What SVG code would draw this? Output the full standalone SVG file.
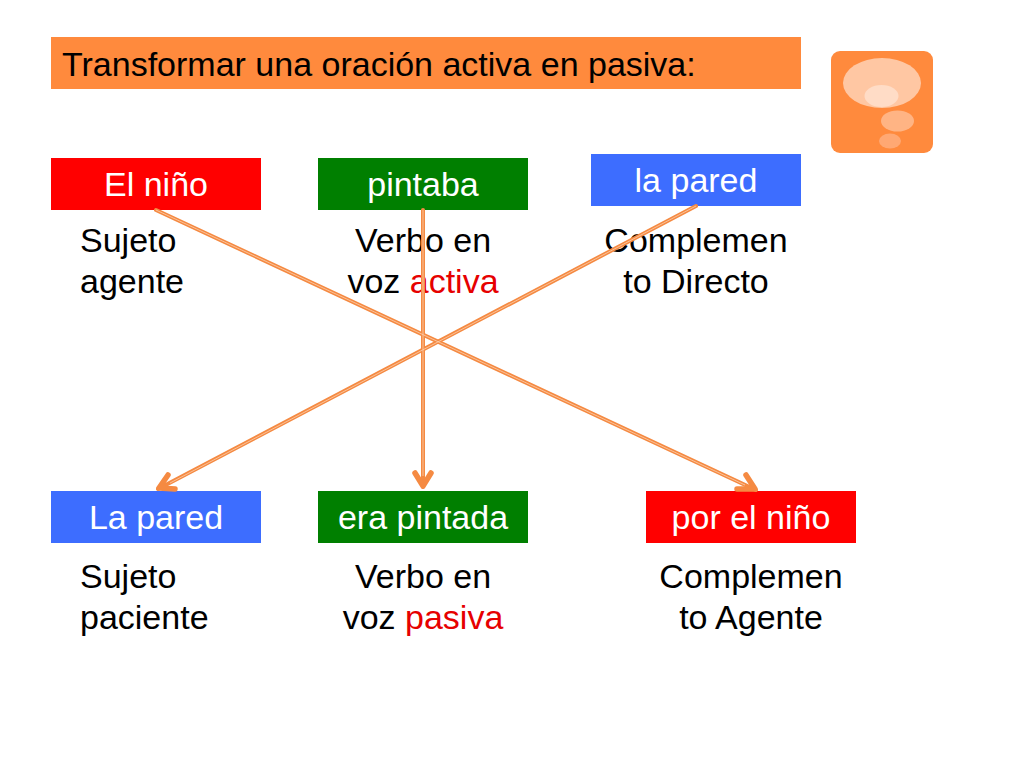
<svg xmlns="http://www.w3.org/2000/svg" width="1024" height="768" viewBox="0 0 1024 768">
<style>
text{font-family:"Liberation Sans",Arial,sans-serif;font-size:34px;fill:#000}
.w{fill:#fff;text-anchor:middle}
.m{text-anchor:middle}
.r{fill:#e60000}
.c{stroke:#f58a42;stroke-width:4;fill:none;stroke-linecap:round;stroke-linejoin:round}
.h{stroke-width:5.500}
.c2{stroke:#fbd0b0;stroke-width:.8;fill:none}
</style>
<rect width="1024" height="768" fill="#fff"/>
<g id="title"><rect x="51" y="37" width="750" height="52" fill="#ff8a3d"/><text x="62" y="76">Transformar una oración activa en pasiva:</text></g>
<g id="icon"><rect x="831" y="51" width="102" height="102" rx="9" fill="#ff8a3d"/>
<ellipse cx="882" cy="83" rx="39" ry="25" fill="#ffc7a3"/><ellipse cx="881.500" cy="96" rx="17" ry="11" fill="#ffdcc6"/><ellipse cx="897.500" cy="121" rx="16.500" ry="10.500" fill="#ffb484"/><ellipse cx="890" cy="141" rx="11" ry="7.500" fill="#ffa873"/></g>
<g id="n1"><rect x="51" y="158" width="210" height="52" fill="#ff0000"/><text class="w" x="156" y="196">El niño</text></g>
<g id="n2"><rect x="318" y="158" width="210" height="52" fill="#007f00"/><text class="w" x="423" y="196">pintaba</text></g>
<g id="n3"><rect x="591" y="154" width="210" height="52" fill="#3d6dff"/><text class="w" x="696" y="192">la pared</text></g>
<g id="n4"><rect x="51" y="491" width="210" height="52" fill="#3d6dff"/><text class="w" x="156" y="529">La pared</text></g>
<g id="n5"><rect x="318" y="491" width="210" height="52" fill="#007f00"/><text class="w" x="423" y="529">era pintada</text></g>
<g id="n6"><rect x="646" y="491" width="210" height="52" fill="#ff0000"/><text class="w" x="751" y="529">por el niño</text></g>
<g id="l1"><text x="80" y="252">Sujeto</text><text x="80" y="293">agente</text></g>
<g id="l2"><text class="m" x="423" y="252">Verbo en</text><text class="m" x="423" y="293">voz <tspan class="r">activa</tspan></text></g>
<g id="l3"><text class="m" x="696" y="252">Complemen</text><text class="m" x="696" y="293">to Directo</text></g>
<g id="l4"><text x="80" y="588">Sujeto</text><text x="80" y="629">paciente</text></g>
<g id="l5"><text class="m" x="423" y="588">Verbo en</text><text class="m" x="423" y="629">voz <tspan class="r">pasiva</tspan></text></g>
<g id="l6"><text class="m" x="751" y="588">Complemen</text><text class="m" x="751" y="629">to Agente</text></g>
<g id="connectors">
<path class="c" d="M156 210L756 490"/>
<path class="c" d="M423 210L423 487"/>
<path class="c" d="M696 206L158 489"/>
<path class="c h" d="M737 489L755 489L746 475"/>
<path class="c h" d="M415 473L423 486L431 473"/>
<path class="c h" d="M168 475L159 488L175 489"/>
<path class="c2" d="M156 210L745 485M423 210L423 476M696 206L170 483"/>
</g>
</svg>
